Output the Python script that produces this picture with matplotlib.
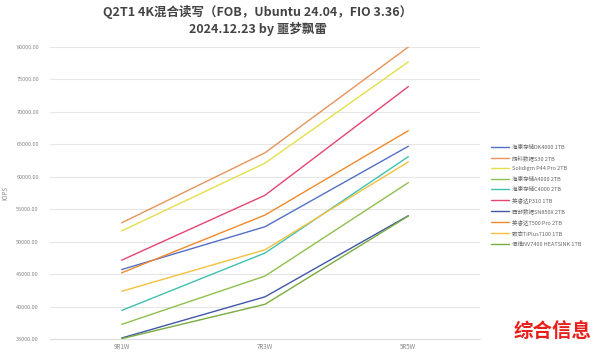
import matplotlib
matplotlib.use("Agg")
import matplotlib.pyplot as plt

plt.rcParams['font.family'] = ['Noto Sans CJK SC', 'DejaVu Sans']

categories = ["9R1W", "7R3W", "5R5W"]
series_names = [
    "海康存储DK4000 1TB",
    "朗科数据S30 2TB",
    "Solidigm P44 Pro 2TB",
    "海康存储A4000 2TB",
    "海康存储C4000 2TB",
    "英睿达P310 1TB",
    "西部数据SN850X 2TB",
    "英睿达T500 Pro 2TB",
    "致态TiPlus7100 1TB",
    "佰维NV7400 HEATSINK 1TB",
]
dk4000 = [45700, 52300, 64700]
s30 = [52900, 63700, 80000]
p44pro = [51650, 62100, 77700]
a4000 = [37250, 44700, 59100]
c4000 = [39400, 48250, 63100]
p310 = [47150, 57150, 73900]
sn850x = [35150, 41500, 54000]
t500pro = [45200, 54100, 67100]
tiplus7100 = [42350, 48750, 62300]
nv7400 = [35050, 40350, 53950]
series_values = [dk4000, s30, p44pro, a4000, c4000, p310, sn850x, t500pro, tiplus7100, nv7400]
colors = ["#5470c6", "#e8935a", "#e3e04a", "#8fbf4f", "#3fc1b0",
          "#e5456f", "#4158a8", "#f08a2c", "#f5c040", "#7aab3e"]
yticks = [35000, 40000, 45000, 50000, 55000, 60000, 65000, 70000, 75000, 80000]

fig = plt.figure(figsize=(5.94, 3.54), dpi=100)
ax = fig.add_axes([50/594, 15/354, 430/594, 292/354])
x = list(range(len(categories)))
for name, vals, c in zip(series_names, series_values, colors):
    ax.plot(x, vals, color=c, lw=1.0, label=name, solid_capstyle='round')

ax.set_xlim(-0.5, len(categories) - 0.5)
ax.set_ylim(35000, 80000)
ax.set_yticks(yticks)
ax.set_yticklabels([f"{v:.2f}" for v in yticks], fontsize=4, color="#888888")
ax.set_xticks(x)
ax.set_xticklabels(categories, fontsize=4.5, color="#888888")
ax.tick_params(axis='y', length=0, pad=8)
ax.tick_params(axis='x', length=0, pad=3)
ax.grid(axis='y', color="#e6e6e6", lw=0.8)
ax.set_axisbelow(True)
for s in ['top', 'right', 'left']:
    ax.spines[s].set_visible(False)
ax.spines['bottom'].set_color("#dddddd")
ax.spines['bottom'].set_linewidth(0.8)
ax.set_ylabel("IOPS", fontsize=4.5, color="#888888", labelpad=5)

fig.text(258/594, 1 - 12/354, "Q2T1 4K混合读写（FOB，Ubuntu 24.04，FIO 3.36）",
         ha='center', va='center', fontsize=9, fontweight='bold', color="#444444")
fig.text(258/594, 1 - 29/354, "2024.12.23 by 噩梦飘雷",
         ha='center', va='center', fontsize=9, fontweight='bold', color="#444444")

leg = fig.legend(loc='upper left', bbox_to_anchor=(488/594, 1 - 142/354), frameon=False,
                 fontsize=4, handlelength=3.2, handletextpad=0.6, labelspacing=0.95,
                 borderpad=0, labelcolor="#666666")

fig.text(553/594, 1 - 332/354, "综合信息", ha='center', va='center', fontsize=14,
         fontweight='bold', color="#e8201c")

fig.savefig("out.png", dpi=100, facecolor="white")
